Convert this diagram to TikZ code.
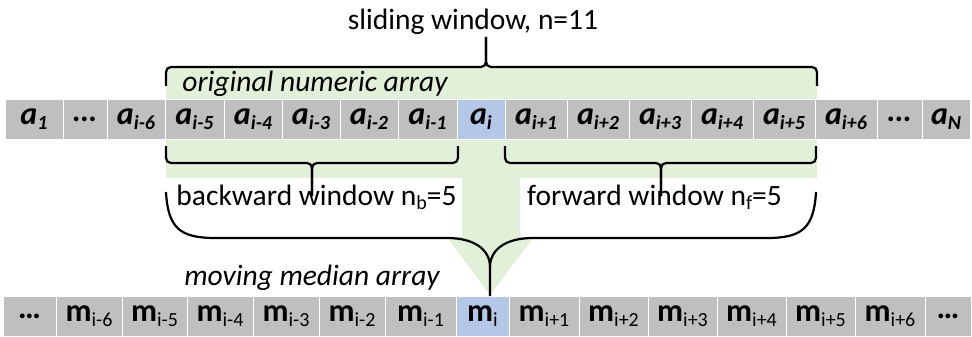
\documentclass[tikz,border=0pt]{standalone}
\usepackage{fontspec}
\setmainfont{Carlito}

\definecolor{cellgray}{RGB}{191,191,191}
\definecolor{cellblue}{RGB}{180,199,231}
\definecolor{wingreen}{RGB}{226,240,217}

\newcommand{\lowidx}[1]{\raisebox{-0.35ex}{\fontsize{20}{20}\selectfont #1}}
\newcommand{\ael}[1]{\textbf{\textit{a\lowidx{#1}}}}
\newcommand{\mel}[1]{\textbf{m}\lowidx{#1}}

\begin{document}
\begin{tikzpicture}[x=1pt, y=-1pt,
  cell/.style={fill=cellgray, draw=white, line width=1pt, minimum height=40,
               inner sep=0pt, font=\fontsize{32}{34}\selectfont},
  midcell/.style={cell, fill=cellblue},
  wintext/.style={font=\fontsize{29.5}{33}\selectfont, inner sep=0pt, anchor=base},
  brace/.style={line width=2.2pt, rounded corners=5pt},
  bigbrace/.style={line width=2.2pt}]

\useasboundingbox (0,0) rectangle (972,337);

% ── GREEN WINDOW BACKGROUND (rows 68..178, funnel down to m_i) ───────────
\fill[wingreen] (166,68) -- (817,68) -- (817,178) -- (520,178) -- (520,237)
  -- (534,237) -- (490,295) -- (447,237) -- (462,237) -- (462,178)
  -- (166,178) -- cycle;

% ── ORIGINAL ARRAY (y=99..139) ───────────────────────────────────────────
\node[cell, minimum width=58] (a1)  at (34,119)  {\ael{1}};
\node[cell, minimum width=44] (ad1) at (85,119)  {\textbf{\textit{…}}};
\node[cell, minimum width=58] (a6)  at (136,119) {\ael{i-6}};
\node[cell, minimum width=59] (a5)  at (194.5,119) {\ael{i-5}};
\node[cell, minimum width=58] (a4)  at (253,119) {\ael{i-4}};
\node[cell, minimum width=58] (a3)  at (311,119) {\ael{i-3}};
\node[cell, minimum width=58] (a2)  at (369,119) {\ael{i-2}};
\node[cell, minimum width=59] (a0)  at (427.5,119) {\ael{i-1}};
\node[midcell, minimum width=48] (ai) at (481,119) {\ael{i}};
\node[cell, minimum width=62] (b1)  at (536,119) {\ael{i+1}};
\node[cell, minimum width=62] (b2)  at (598,119) {\ael{i+2}};
\node[cell, minimum width=62] (b3)  at (660,119) {\ael{i+3}};
\node[cell, minimum width=62] (b4)  at (722,119) {\ael{i+4}};
\node[cell, minimum width=62] (b5)  at (784,119) {\ael{i+5}};
\node[cell, minimum width=62] (b6)  at (846,119) {\ael{i+6}};
\node[cell, minimum width=45] (ad2) at (899.5,119) {\textbf{\textit{…}}};
\node[cell, minimum width=48] (aN)  at (946,119) {\ael{N}};

% ── MOVING MEDIAN ARRAY (y=296..336) ─────────────────────────────────────
\node[cell, minimum width=53] (md1) at (29.5,316) {\textbf{…}};
\node[cell, minimum width=66] (m6)  at (89,316)   {\mel{i-6}};
\node[cell, minimum width=65] (m5)  at (154.5,316) {\mel{i-5}};
\node[cell, minimum width=66] (m4)  at (220,316)  {\mel{i-4}};
\node[cell, minimum width=66] (m3)  at (286,316)  {\mel{i-3}};
\node[cell, minimum width=66] (m2)  at (352,316)  {\mel{i-2}};
\node[cell, minimum width=71] (m0)  at (420.5,316) {\mel{i-1}};
\node[midcell, minimum width=53] (mi) at (482.5,316) {\mel{i}};
\node[cell, minimum width=70] (n1)  at (544,316)  {\mel{i+1}};
\node[cell, minimum width=69] (n2)  at (613.5,316) {\mel{i+2}};
\node[cell, minimum width=69] (n3)  at (682.5,316) {\mel{i+3}};
\node[cell, minimum width=69] (n4)  at (751.5,316) {\mel{i+4}};
\node[cell, minimum width=69] (n5)  at (820.5,316) {\mel{i+5}};
\node[cell, minimum width=70] (n6)  at (890,316)  {\mel{i+6}};
\node[cell, minimum width=46] (md2) at (948,316)  {\textbf{…}};

% ── BRACES ───────────────────────────────────────────────────────────────
% sliding window: a_{i-5} .. a_{i+5}, tip up at x=486
\draw[brace] (166,86) -- (166,67) -- (486,67) -- (486,37);
\draw[brace] (817,86) -- (817,67) -- (486,67) -- (486,37);
% backward window: a_{i-5} .. a_{i-1}, tip down at x=312
\draw[brace] (166,146) -- (166,163) -- (312,163) -- (312,196);
\draw[brace] (458,146) -- (458,163) -- (312,163) -- (312,196);
% forward window: a_{i+1} .. a_{i+5}, tip down at x=661
\draw[brace] (505,146) -- (505,163) -- (661,163) -- (661,196);
\draw[brace] (816,146) -- (816,163) -- (661,163) -- (661,196);
% both windows -> m_i
\draw[bigbrace] (166,192) .. controls (168,228) and (180,238) .. (215,238)
  -- (447,238) .. controls (475,238) and (490,250) .. (490,267) -- (490,296);
\draw[bigbrace] (816,192) .. controls (814,228) and (802,238) .. (767,238)
  -- (533,238) .. controls (505,238) and (490,250) .. (490,267);

% ── TEXTS ────────────────────────────────────────────────────────────────
\node[wintext] (slide) at (473,30) {sliding window, n=11};
\node[wintext, font=\fontsize{29.5}{33}\selectfont\itshape] (orig) at (315,92)
  {original numeric array};
\node[wintext] (back) at (316.5,205) {backward window n\lowidx{b}=5};
\node[wintext] (fwd)  at (654.5,205) {forward window n\lowidx{f}=5};
\node[wintext, font=\fontsize{29.5}{33}\selectfont\itshape] (movm) at (312,285)
  {moving median array};

\end{tikzpicture}
\end{document}
